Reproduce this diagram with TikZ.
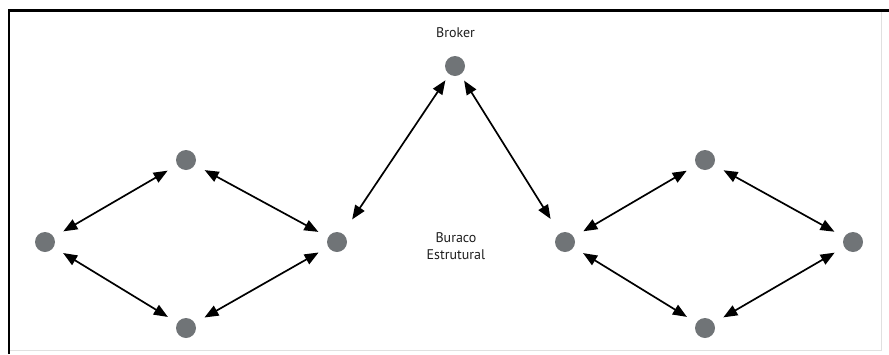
\documentclass[tikz,border=0pt]{standalone}
\usepackage{fontspec}
\setmainfont{PT Sans}
\usetikzlibrary{arrows.meta}
\definecolor{dotgray}{RGB}{112,116,119}
\definecolor{inkgray}{RGB}{30,30,30}
\begin{document}
\begin{tikzpicture}[x=1pt,y=-1pt,
  actor/.style={circle,fill=dotgray,draw=none,minimum size=20pt,inner sep=0pt},
  link/.style={<->,line width=1.7pt,
    >={Triangle[length=14pt,width=11pt]},shorten <=11pt,shorten >=11pt},
  label/.style={font=\fontsize{14}{17}\selectfont,text=inkgray,align=center,inner sep=0pt}]
\useasboundingbox (0,0) rectangle (889,354);
% frame
\draw[line width=2.4pt,black] (9,354) -- (9,10.5) -- (889,10.5);
\draw[line width=0.6pt,black!12] (881,12) -- (881,350) -- (10,350);
% broker
\node[actor] (br) at (455,66) {};
\node[label] (brl) at (455.5,33) {Broker};
% left cluster
\node[actor] (lt) at (186,160) {};
\node[actor] (ll) at (45,242) {};
\node[actor] (lr) at (337,242) {};
\node[actor] (lb) at (186,328) {};
% right cluster
\node[actor] (rt) at (705,160) {};
\node[actor] (rl) at (565,242) {};
\node[actor] (rr) at (853,242) {};
\node[actor] (rb) at (705,328) {};
% structural hole
\node[label] (hole) at (456,246) {Buraco\\Estrutural};
% ties inside clusters
\draw[link] (ll) -- (lt);
\draw[link] (lt) -- (lr);
\draw[link] (ll) -- (lb);
\draw[link] (lb) -- (lr);
\draw[link] (rl) -- (rt);
\draw[link] (rt) -- (rr);
\draw[link] (rl) -- (rb);
\draw[link] (rb) -- (rr);
% broker bridges
\draw[link,shorten <=17pt,shorten >=7pt] (lr) -- (br);
\draw[link,shorten <=7pt,shorten >=17pt] (br) -- (rl);
\end{tikzpicture}
\end{document}
